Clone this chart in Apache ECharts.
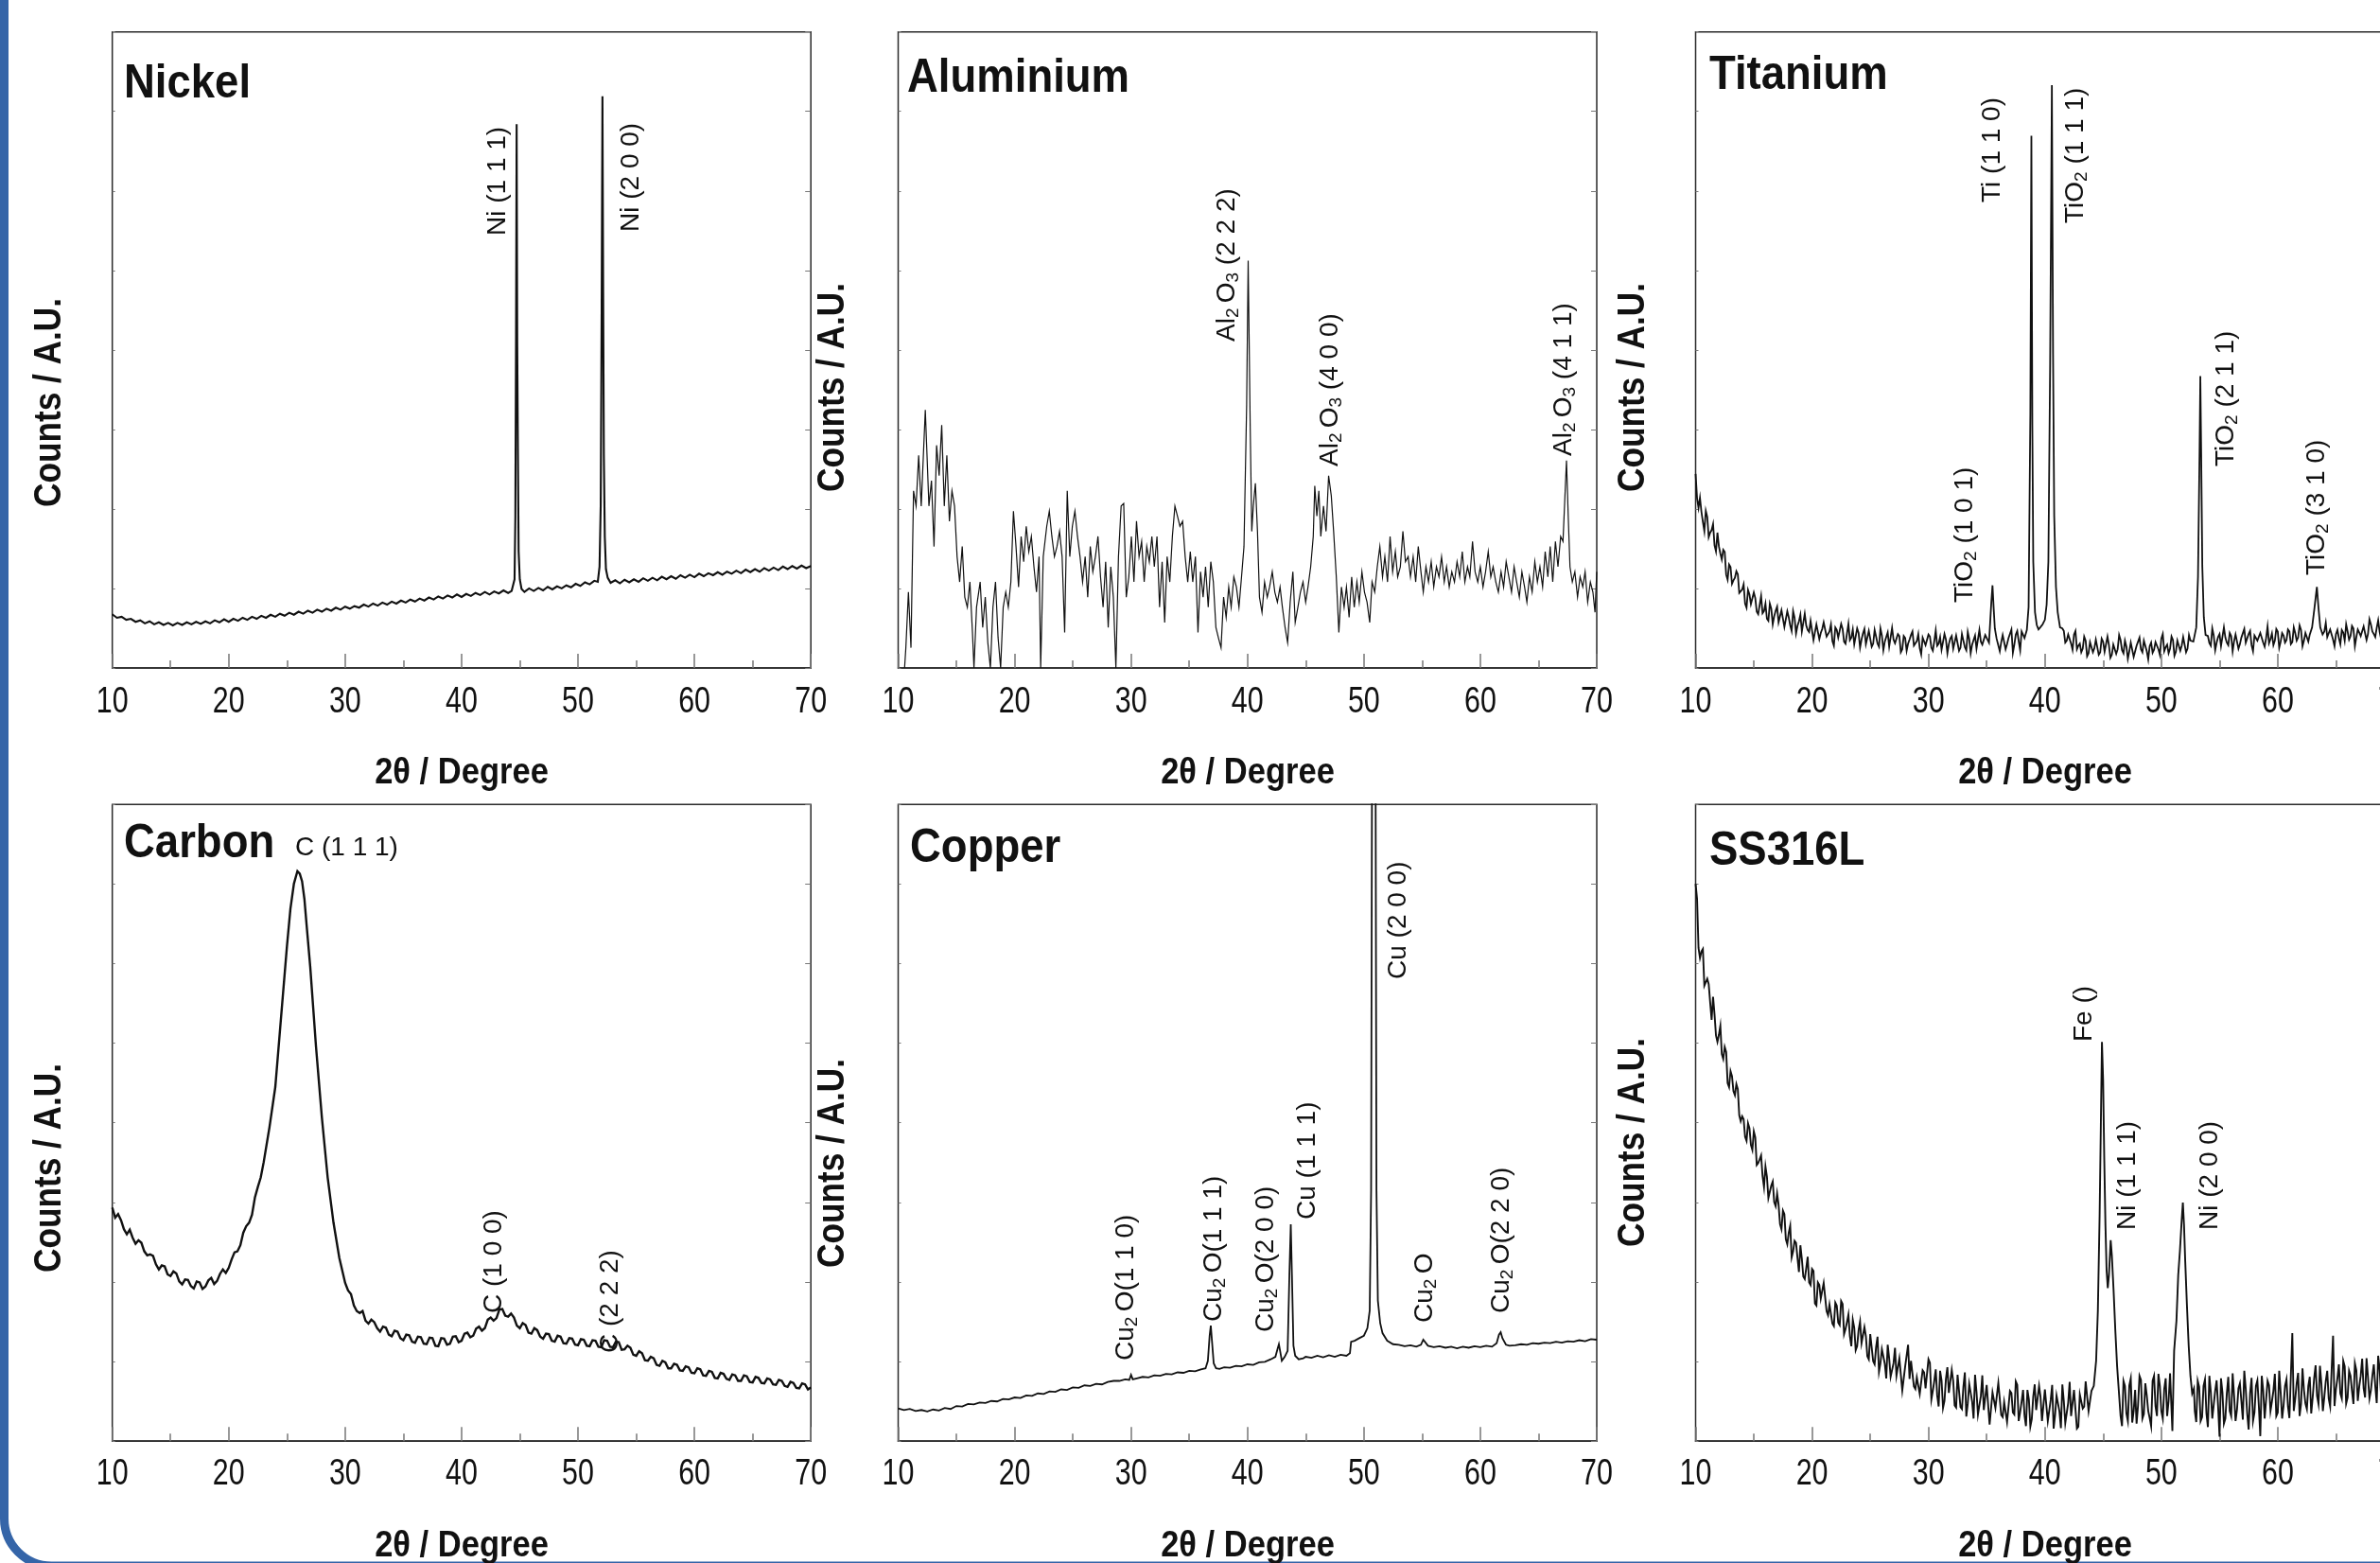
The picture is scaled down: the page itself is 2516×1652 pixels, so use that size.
<!DOCTYPE html>
<html><head><meta charset="utf-8">
<script src="https://cdn.jsdelivr.net/npm/echarts/dist/echarts.min.js"></script>
<style>html,body{margin:0;padding:0;background:#fff;overflow:hidden}#c{width:2516px;height:1652px}</style>
</head><body><div id="c"></div>
<script>
// ---------- tick labels ----------
const xTickValues = [10, 20, 30, 40, 50, 60, 70];
const xTickLabels = ['10','20','30','40','50','60','70'];
// ---------- data: [2θ (deg), counts (A.U.)] ----------
const nickel = [[10,106],[10.4,99],[10.8,101],[11.2,95],[11.6,97],[12,91],[12.4,94],[12.8,88],[13.2,92],[13.6,86],[14,90],[14.4,85],[14.8,89],[15.2,84],[15.6,89],[16,85],[16.4,90],[16.8,86],[17.2,91],[17.6,87],[18,92],[18.4,88],[18.8,94],[19.2,90],[19.6,96],[20,91],[20.4,97],[20.8,93],[21.2,99],[21.6,95],[22,101],[22.4,97],[22.8,103],[23.2,99],[23.6,105],[24,101],[24.4,107],[24.8,103],[25.2,109],[25.6,105],[26,111],[26.4,107],[26.8,113],[27.2,109],[27.6,115],[28,111],[28.4,117],[28.8,113],[29.2,119],[29.6,115],[30,121],[30.4,117],[30.8,122],[31.2,119],[31.6,125],[32,121],[32.4,127],[32.8,123],[33.2,129],[33.6,125],[34,131],[34.4,127],[34.8,133],[35.2,129],[35.6,135],[36,131],[36.4,137],[36.8,133],[37.2,139],[37.6,135],[38,141],[38.4,137],[38.8,143],[39.2,139],[39.6,145],[40,140],[40.4,146],[40.8,142],[41.2,148],[41.6,144],[42,150],[42.4,145],[42.8,151],[43.2,147],[43.6,153],[44,148],[44.3,152],[44.45,150],[44.55,175],[44.62,300],[44.68,660],[44.73,1073],[44.78,640],[44.84,420],[44.9,230],[45,175],[45.15,156],[45.4,150],[45.8,157],[46.2,152],[46.6,158],[47,153],[47.4,160],[47.8,155],[48.2,161],[48.6,157],[49,163],[49.4,159],[49.8,166],[50.2,162],[50.6,169],[51,165],[51.4,172],[51.7,170],[51.85,200],[51.95,320],[52.03,700],[52.1,1128],[52.16,740],[52.22,420],[52.3,260],[52.4,195],[52.55,178],[52.8,168],[53.2,173],[53.6,167],[54,174],[54.4,169],[54.8,175],[55.2,170],[55.6,177],[56,172],[56.4,178],[56.8,173],[57.2,180],[57.6,175],[58,181],[58.4,176],[58.8,183],[59.2,178],[59.6,184],[60,179],[60.4,186],[60.8,181],[61.2,187],[61.6,183],[62,189],[62.4,184],[62.8,190],[63.2,186],[63.6,192],[64,187],[64.4,194],[64.8,189],[65.2,195],[65.6,190],[66,197],[66.4,192],[66.8,198],[67.2,193],[67.6,200],[68,195],[68.4,201],[68.8,196],[69.2,202],[69.6,197],[70,201]];

const aluminium = [[10.55,0],[10.66,40],[10.88,150],[11.1,40],[11.32,350],[11.54,320],[11.76,420],[11.98,320],[12.33,510],[12.64,320],[12.86,370],[13.08,240],[13.3,440],[13.52,380],[13.74,480],[13.96,320],[14.18,420],[14.4,290],[14.62,350],[14.84,320],[15.06,220],[15.28,170],[15.5,240],[15.72,140],[15.94,120],[16.16,170],[16.38,70],[16.51,0],[16.73,120],[17.04,170],[17.26,80],[17.48,140],[17.7,50],[17.92,0],[18.14,120],[18.36,170],[18.58,60],[18.8,0],[19.02,120],[19.24,150],[19.46,120],[19.68,170],[19.9,310],[20.12,240],[20.34,160],[20.56,260],[20.78,210],[21.0,280],[21.22,230],[21.44,260],[21.66,200],[21.88,150],[22.1,220],[22.24,0],[22.46,220],[22.76,280],[22.98,310],[23.2,260],[23.42,220],[23.64,240],[23.86,270],[24.08,220],[24.3,70],[24.52,350],[24.74,220],[24.96,280],[25.18,310],[25.4,260],[25.62,220],[25.84,170],[26.06,220],[26.28,140],[26.5,240],[26.72,190],[26.94,220],[27.16,260],[27.38,180],[27.6,120],[27.82,210],[28.04,80],[28.26,200],[28.48,140],[28.7,0],[28.92,220],[29.15,320],[29.37,325],[29.59,140],[29.81,180],[30.03,260],[30.25,170],[30.47,290],[30.69,220],[30.91,250],[31.13,170],[31.35,240],[31.57,210],[31.79,260],[32.0,200],[32.23,260],[32.45,120],[32.67,210],[32.89,90],[33.1,220],[33.33,170],[33.55,260],[33.77,320],[33.99,300],[34.2,280],[34.43,290],[34.65,220],[34.87,170],[35.09,230],[35.3,170],[35.53,220],[35.75,70],[35.97,190],[36.19,140],[36.4,200],[36.63,120],[36.85,210],[37.07,170],[37.29,80],[37.5,60],[37.73,40],[37.95,140],[38.17,100],[38.39,160],[38.6,120],[38.83,180],[39.05,160],[39.27,120],[39.49,180],[39.7,240],[39.93,520],[40.06,805],[40.24,470],[40.37,270],[40.5,320],[40.68,365],[40.86,270],[41.03,140],[41.25,110],[41.47,170],[41.7,140],[41.9,160],[42.13,190],[42.35,150],[42.57,130],[42.8,160],[43.0,120],[43.23,80],[43.45,50],[43.67,130],[43.9,190],[44.1,90],[44.33,120],[44.55,150],[44.77,170],[45.0,130],[45.2,160],[45.43,200],[45.65,260],[45.78,360],[45.96,300],[46.13,350],[46.3,260],[46.53,320],[46.75,270],[46.97,380],[47.2,340],[47.4,270],[47.63,180],[47.85,70],[48.07,160],[48.3,120],[48.5,160],[48.73,100],[48.95,180],[49.17,120],[49.4,170],[49.6,130],[49.83,190],[50.05,150],[50.27,130],[50.5,90],[50.7,170],[50.93,150],[51.15,200],[51.37,240],[51.6,180],[51.8,220],[52.03,170],[52.25,260],[52.47,190],[52.7,230],[52.9,180],[53.13,200],[53.35,270],[53.57,210],[53.8,220],[54.0,180],[54.23,220],[54.45,170],[54.67,240],[54.9,190],[55.1,150],[55.33,200],[55.55,170],[55.78,210],[56.0,160],[56.23,200],[56.45,180],[56.67,220],[56.9,170],[57.1,200],[57.33,160],[57.55,190],[57.78,170],[58.0,210],[58.23,180],[58.45,230],[58.67,170],[58.9,200],[59.1,180],[59.33,250],[59.55,190],[59.78,170],[60.0,200],[60.23,160],[60.45,190],[60.68,230],[60.9,180],[61.1,200],[61.33,170],[61.55,150],[61.78,190],[62.0,160],[62.22,210],[62.45,180],[62.68,150],[62.9,200],[63.12,170],[63.35,140],[63.57,190],[63.8,160],[64.0,130],[64.22,180],[64.45,150],[64.68,210],[64.9,170],[65.12,200],[65.35,160],[65.57,230],[65.8,180],[66.0,240],[66.22,170],[66.45,250],[66.67,200],[66.9,260],[67.1,250],[67.25,330],[67.4,410],[67.55,300],[67.7,200],[67.9,170],[68.12,190],[68.35,140],[68.57,180],[68.8,160],[69.0,190],[69.22,130],[69.45,170],[69.67,150],[69.85,110],[70.0,190]];

const titanium = [[10,383],[10.25,316],[10.5,308],[10.75,270],[11,298],[11.25,267],[11.5,284],[11.75,230],[12,240],[12.25,214],[12.5,229],[12.75,174],[13,199],[13.25,173],[13.5,191],[13.75,148],[14,155],[14.25,127],[14.5,154],[14.75,126],[15,149],[15.25,111],[15.5,124],[15.75,108],[16,127],[16.25,93],[16.5,117],[16.75,102],[17,121],[17.25,88],[17.5,114],[17.75,83],[18,100],[18.25,73],[18.5,99],[18.75,83],[19,105],[19.25,69],[19.5,84],[19.75,71],[20,91],[20.25,56],[20.5,84],[20.75,69],[21,90],[21.25,62],[21.5,72],[21.75,53],[22,80],[22.25,60],[22.5,87],[22.75,52],[23,68],[23.25,55],[23.5,76],[23.75,44],[24,69],[24.25,56],[24.5,77],[24.75,46],[25,70],[25.25,48],[25.5,62],[25.75,42],[26,64],[26.25,52],[26.5,70],[26.75,43],[27,56],[27.25,47],[27.5,63],[27.75,37],[28,59],[28.25,48],[28.5,65],[28.75,44],[29,53],[29.25,39],[29.5,60],[29.75,45],[30,66],[30.25,40],[30.5,53],[30.75,44],[31,61],[31.25,37],[31.5,56],[31.75,47],[32,63],[32.25,40],[32.5,61],[32.75,40],[33,54],[33.25,35],[33.5,57],[33.75,46],[34,64],[34.25,39],[34.5,52],[34.75,44],[35,62],[35.2,50],[35.3,90],[35.4,130],[35.5,163],[35.6,118],[35.7,78],[35.85,58],[36,61],[36.25,51],[36.5,68],[36.75,47],[37,56],[37.25,30],[37.5,66],[37.75,53],[38,72],[38.25,59],[38.45,75],[38.6,120],[38.75,500],[38.84,1050],[38.92,480],[39,210],[39.15,110],[39.3,85],[39.45,76],[39.6,80],[39.8,86],[40,95],[40.15,125],[40.3,210],[40.45,600],[40.6,1150],[40.7,620],[40.8,300],[40.95,160],[41.1,110],[41.3,80],[41.5,78],[41.75,50],[42,66],[42.25,48],[42.5,66],[42.75,37],[43,48],[43.25,38],[43.5,54],[43.75,29],[44,49],[44.25,39],[44.5,55],[44.75,31],[45,52],[45.25,31],[45.5,45],[45.75,26],[46,48],[46.25,37],[46.5,55],[46.75,29],[47,42],[47.25,33],[47.5,50],[47.75,24],[48,46],[48.25,37],[48.5,54],[48.75,33],[49,43],[49.25,30],[49.5,51],[49.75,37],[50,58],[50.25,33],[50.5,46],[50.75,38],[51,55],[51.25,32],[51.5,52],[51.75,44],[52,60],[52.25,38],[52.5,54],[52.75,52],[53,80],[53.15,180],[53.28,420],[53.35,576],[53.42,430],[53.52,200],[53.65,100],[53.8,65],[54,63],[54.25,44],[54.5,64],[54.75,50],[55,67],[55.25,46],[55.5,60],[55.75,45],[56,63],[56.25,53],[56.5,68],[56.75,47],[57,59],[57.25,50],[57.5,67],[57.75,45],[58,64],[58.25,54],[58.5,69],[58.75,50],[59,59],[59.25,49],[59.5,68],[59.75,54],[60,72],[60.25,52],[60.5,64],[60.75,55],[61,72],[61.25,51],[61.5,69],[61.75,60],[62,75],[62.25,54],[62.5,69],[62.75,66],[62.95,80],[63.15,118],[63.36,160],[63.5,118],[63.65,80],[63.85,66],[64,72],[64.25,61],[64.5,76],[64.75,56],[65,67],[65.25,59],[65.5,75],[65.75,54],[66,72],[66.25,63],[66.5,78],[66.75,61],[67,70],[67.25,60],[67.5,79],[67.75,67],[68,86],[68.25,67],[68.5,79],[68.75,71],[69,89],[69.25,69],[69.5,89],[69.75,81],[70,95]];
// extra noise readings between the points above
const titaniumMid = [[10.125,335],[10.375,336],[10.625,288],[10.875,310],[11.125,258],[11.375,272],[11.625,242],[11.875,267],[12.125,226],[12.375,233],[12.625,184],[12.875,204],[13.125,166],[13.375,178],[13.625,185],[13.875,147],[14.125,165],[14.375,119],[14.625,145],[14.875,125],[15.125,138],[15.375,106],[15.625,142],[15.875,112],[16.125,97],[16.375,127],[16.625,86],[16.875,113],[17.125,90],[17.375,114],[17.625,81],[17.875,112],[18.125,84],[18.375,112],[18.625,68],[18.875,92],[19.125,72],[19.375,107],[19.625,75],[19.875,93],[20.125,55],[20.375,86],[20.625,57],[20.875,77],[21.125,92],[21.375,61],[21.625,86],[21.875,44],[22.125,75],[22.375,60],[22.625,77],[22.875,48],[23.125,87],[23.375,60],[23.625,47],[23.875,78],[24.125,40],[24.375,68],[24.625,47],[24.875,73],[25.125,42],[25.375,75],[25.625,48],[25.875,78],[26.125,35],[26.375,61],[26.625,42],[26.875,79],[27.125,49],[27.375,67],[27.625,31],[27.875,63],[28.125,34],[28.375,56],[28.625,72],[28.875,42],[29.125,67],[29.375,27],[29.625,58],[29.875,44],[30.125,62],[30.375,34],[30.625,74],[30.875,48],[31.125,36],[31.375,67],[31.625,29],[31.875,58],[32.125,38],[32.375,64],[32.625,34],[32.875,67],[33.125,41],[33.375,71],[33.625,29],[33.875,55],[34.125,38],[34.375,75],[34.625,46],[34.875,65],[36.125,33],[36.375,65],[36.625,37],[36.875,59],[37.125,76],[37.375,46],[37.625,73],[37.875,35],[41.625,73],[41.875,54],[42.125,67],[42.375,36],[42.625,73],[42.875,44],[43.125,31],[43.375,62],[43.625,23],[43.875,51],[44.125,31],[44.375,56],[44.625,26],[44.875,58],[45.125,32],[45.375,62],[45.625,20],[45.875,46],[46.125,28],[46.375,65],[46.625,35],[46.875,54],[47.125,18],[47.375,50],[47.625,22],[47.875,44],[48.125,60],[48.375,31],[48.625,57],[48.875,17],[49.125,50],[49.375,36],[49.625,54],[49.875,26],[50.125,67],[50.375,41],[50.625,29],[50.875,62],[51.125,24],[51.375,54],[51.625,34],[51.875,61],[52.125,31],[52.375,65],[54.125,49],[54.375,78],[54.625,35],[54.875,61],[55.125,43],[55.375,80],[55.625,50],[55.875,69],[56.125,33],[56.375,66],[56.625,38],[56.875,60],[57.125,77],[57.375,47],[57.625,73],[57.875,33],[58.125,66],[58.375,52],[58.625,70],[58.875,42],[59.125,82],[59.375,57],[59.625,45],[59.875,77],[60.125,40],[60.375,69],[60.625,50],[60.875,76],[61.125,47],[61.375,80],[61.625,54],[61.875,84],[62.125,43],[62.375,69],[62.625,52],[64.125,89],[64.375,59],[64.625,78],[64.875,43],[65.125,75],[65.375,47],[65.625,70],[65.875,86],[66.125,56],[66.375,83],[66.625,43],[66.875,76],[67.125,63],[67.375,82],[67.625,55],[67.875,96],[68.125,72],[68.375,61],[68.625,94],[68.875,57],[69.125,88],[69.375,69],[69.625,97],[69.875,68]];

const carbon = [[10,465],[10.5,452],[11,422],[11.5,421],[12,393],[12.5,395],[13,370],[13.5,369],[14,342],[14.5,348],[15,329],[15.5,334],[16,312],[16.5,321],[17,304],[17.5,316],[18,308],[18.5,325],[19,319],[19.5,342],[20,345],[20.5,376],[21,390],[21.5,428],[22,451],[22.5,506],[23,555],[23.5,625],[24,705],[24.5,845],[25,985],[25.3,1060],[25.6,1110],[25.9,1135],[26.1,1130],[26.3,1115],[26.5,1080],[26.7,1025],[27,945],[27.5,785],[28,645],[28.5,525],[29,435],[29.5,365],[30,315],[30.5,293],[31,259],[31.5,259],[32,234],[32.5,237],[33,218],[33.5,226],[34,209],[34.5,218],[35,201],[35.5,211],[36,196],[36.5,207],[37,193],[37.5,205],[38,189],[38.5,204],[39,194],[39.5,209],[40,200],[40.5,216],[41,210],[41.5,228],[42,225],[42.5,246],[43,245],[43.5,263],[44,248],[44.5,246],[45,225],[45.5,231],[46,214],[46.5,221],[47,204],[47.5,213],[48,198],[48.5,208],[49,194],[49.5,204],[50,191],[50.5,202],[51,189],[51.5,200],[52,187],[52.5,200],[53,187],[53.5,197],[54,183],[54.5,186],[55,170],[55.5,175],[56,160],[56.5,165],[57,150],[57.5,157],[58,145],[58.5,152],[59,140],[59.5,147],[60,135],[60.5,143],[61,130],[61.5,138],[62,125],[62.5,134],[63,122],[63.5,131],[64,120],[64.5,129],[65,117],[65.5,126],[66,115],[66.5,123],[67,112],[67.5,120],[68,108],[68.5,116],[69,105],[69.5,113],[70,107]];
const carbonMid = [[10.25,445],[10.75,440],[11.25,412],[11.75,405],[12.25,400],[12.75,378],[13.25,372],[13.75,352],[14.25,350],[14.75,332],[15.25,338],[15.75,318],[16.25,322],[16.75,309],[17.25,318],[17.75,303],[18.25,320],[18.75,313],[19.25,333],[19.75,335],[20.25,362],[20.75,378],[21.25,415],[21.75,435],[22.25,485],[22.75,525],[30.25,300],[30.75,270],[31.25,255],[31.75,240],[32.25,242],[32.75,225],[33.25,228],[33.75,212],[34.25,220],[34.75,205],[35.25,212],[35.75,198],[36.25,208],[36.75,194],[37.25,206],[37.75,190],[38.25,205],[38.75,192],[39.25,208],[39.75,197],[40.25,214],[40.75,207],[41.25,224],[41.75,220],[42.25,242],[42.75,240],[43.25,262],[43.75,250],[44.25,254],[44.75,230],[45.25,235],[45.75,216],[46.25,225],[46.75,208],[47.25,214],[47.75,200],[48.25,210],[48.75,195],[49.25,205],[49.75,192],[50.25,203],[50.75,190],[51.25,201],[51.75,188],[52.25,201],[52.75,188],[53.25,198],[53.75,182],[54.25,190],[54.75,172],[55.25,179],[55.75,161],[56.25,168],[56.75,152],[57.25,160],[57.75,145],[58.25,154],[58.75,141],[59.25,149],[59.75,136],[60.25,145],[60.75,131],[61.25,140],[61.75,126],[62.25,136],[62.75,124],[63.25,133],[63.75,120],[64.25,131],[64.75,118],[65.25,128],[65.75,116],[66.25,125],[66.75,113],[67.25,122],[67.75,110],[68.25,118],[68.75,106],[69.25,115],[69.75,103]];

const copper = [[10,65],[10.5,62],[11,64],[11.5,60],[12,62],[12.5,59],[13,63],[13.5,61],[14,66],[14.5,64],[15,70],[15.5,69],[16,74],[16.5,73],[17,77],[17.5,76],[18,80],[18.5,79],[19,84],[19.5,83],[20,87],[20.5,86],[21,91],[21.5,90],[22,95],[22.5,94],[23,99],[23.5,98],[24,103],[24.5,102],[25,107],[25.5,106],[26,111],[26.5,110],[27,114],[27.5,113],[28,118],[28.5,120],[29,120],[29.5,123],[29.85,122],[30,132],[30.15,123],[30.5,125],[31,128],[31.5,127],[32,131],[32.5,130],[33,134],[33.5,133],[34,137],[34.5,136],[35,140],[35.5,139],[36,143],[36.4,145],[36.6,160],[36.75,210],[36.85,230],[36.95,200],[37.1,155],[37.3,145],[37.6,144],[38,147],[38.5,146],[39,150],[39.5,149],[40,153],[40.5,152],[41,157],[41.5,158],[42,163],[42.4,168],[42.6,185],[42.7,193],[42.8,180],[42.95,160],[43.2,168],[43.45,180],[43.6,330],[43.72,432],[43.82,330],[43.95,190],[44.1,170],[44.4,163],[44.8,165],[45,168],[45.5,166],[46,170],[46.5,167],[47,171],[47.5,168],[48,172],[48.5,170],[48.8,175],[48.9,198],[49.2,200],[49.6,205],[50,210],[50.3,225],[50.5,260],[50.62,500],[50.72,1600],[50.85,2500],[50.98,1600],[51.08,500],[51.2,280],[51.4,235],[51.6,215],[52,200],[52.5,193],[53,192],[53.5,189],[54,191],[54.5,188],[54.9,192],[55.1,202],[55.25,200],[55.5,190],[56,187],[56.5,189],[57,186],[57.5,188],[58,185],[58.5,188],[59,186],[59.5,189],[60,187],[60.5,190],[61,188],[61.4,195],[61.6,212],[61.75,217],[61.9,205],[62.2,192],[62.5,190],[63,191],[63.5,193],[64,192],[64.5,195],[65,194],[65.5,196],[66,195],[66.5,198],[67,196],[67.5,199],[68,198],[68.5,201],[69,199],[69.5,203],[70,202]];

const ss316l = [[10,1110],[10.25,982],[10.5,975],[10.75,907],[11,921],[11.25,874],[11.5,885],[11.75,808],[12,809],[12.25,771],[12.5,785],[12.75,713],[13,737],[13.25,697],[13.5,711],[13.75,649],[14,647],[14.25,606],[14.5,633],[14.75,590],[15,617],[15.25,550],[15.5,561],[15.75,528],[16,547],[16.25,484],[16.5,509],[16.75,476],[17,493],[17.25,432],[17.5,459],[17.75,402],[18,415],[18.25,366],[18.5,399],[18.75,365],[19,390],[19.25,328],[19.5,344],[19.75,316],[20,343],[20.25,274],[20.5,316],[20.75,284],[21,315],[21.25,259],[21.5,272],[21.75,234],[22,276],[22.25,236],[22.5,279],[22.75,213],[23,237],[23.25,209],[23.5,242],[23.75,181],[24,221],[24.25,195],[24.5,227],[24.75,169],[25,213],[25.25,159],[25.5,187],[25.75,138],[26,183],[26.25,154],[26.5,192],[26.75,128],[27,155],[27.25,130],[27.5,165],[27.75,101],[28,149],[28.25,192],[28.5,160],[28.75,109],[29,127],[29.25,94],[29.5,141],[29.75,105],[30,163],[30.25,83],[30.5,120],[30.75,91],[31,140],[31.25,66],[31.5,124],[31.75,96],[32,142],[32.25,71],[32.5,132],[32.75,68],[33,108],[33.25,49],[33.5,114],[33.75,79],[34,132],[34.25,53],[34.5,90],[34.75,62],[35,112],[35.25,33],[35.5,97],[35.75,66],[36,116],[36.25,52],[36.5,78],[36.75,38],[37,100],[37.25,57],[37.5,119],[37.75,40],[38,79],[38.25,51],[38.5,102],[38.75,29],[39,89],[39.25,62],[39.5,110],[39.75,40],[40,103],[40.25,40],[40.5,82],[40.75,25],[41,91],[41.25,59],[41.5,113],[41.75,36],[42,76],[42.25,50],[42.5,102],[42.75,25],[43,93],[43.25,65],[43.5,119],[43.75,60],[44,100],[44.2,110],[44.4,160],[44.55,260],[44.7,450],[44.8,620],[44.9,795],[45,720],[45.1,560],[45.2,430],[45.3,340],[45.4,305],[45.5,330],[45.65,400],[45.75,370],[45.9,300],[46.05,220],[46.2,150],[46.35,100],[46.5,50],[46.75,120],[47,55],[47.25,111],[47.5,37],[47.75,102],[48,71],[48.25,122],[48.5,54],[48.75,91],[49,46],[49.25,120],[49.5,70],[49.75,134],[50,60],[50.25,104],[50.5,50],[50.75,135],[50.95,20],[51.1,180],[51.3,240],[51.45,330],[51.6,380],[51.75,440],[51.85,475],[51.95,430],[52.05,360],[52.2,270],[52.35,190],[52.5,130],[52.65,95],[52.8,105],[53,38],[53.25,108],[53.5,48],[53.75,123],[54,28],[54.25,98],[54.5,48],[54.75,121],[55,9],[55.25,97],[55.5,45],[55.75,128],[56,50],[56.25,90],[56.5,63],[56.75,115],[57,43],[57.25,104],[57.5,23],[57.75,126],[58,57],[58.25,121],[58.5,10],[58.75,101],[59,44],[59.25,111],[59.5,79],[59.75,134],[60,57],[60.25,97],[60.5,71],[60.75,123],[61,46],[61.25,215],[61.5,84],[61.75,136],[62,74],[62.25,102],[62.5,64],[62.75,128],[63,87],[63.25,151],[63.5,74],[63.75,114],[64,88],[64.25,140],[64.5,69],[64.75,210],[65,104],[65.25,153],[65.5,85],[65.75,149],[66,87],[66.25,130],[66.5,74],[66.75,141],[67,109],[67.25,164],[67.5,87],[67.75,127],[68,101],[68.25,153],[68.5,76],[68.75,143],[69,114],[69.25,166],[69.5,104],[69.75,139],[70,110]];
const ss316lMid = [[10.125,1080],[10.375,962],[10.625,980],[10.875,910],[11.125,910],[11.375,839],[11.625,850],[11.875,795],[12.125,827],[12.375,761],[12.625,775],[12.875,705],[13.125,727],[13.375,689],[13.625,701],[13.875,637],[14.125,641],[14.375,598],[14.625,623],[14.875,580],[15.125,605],[15.375,554],[15.625,569],[15.875,506],[16.125,527],[16.375,486],[16.625,517],[16.875,468],[17.125,471],[17.375,422],[17.625,452],[17.875,392],[18.125,429],[18.375,378],[18.625,395],[18.875,337],[19.125,363],[19.375,323],[19.625,367],[19.875,311],[20.125,339],[20.375,270],[20.625,311],[20.875,282],[21.125,312],[21.375,251],[21.625,271],[21.875,229],[22.125,270],[22.375,231],[22.625,273],[22.875,223],[23.125,252],[23.375,189],[23.625,226],[23.875,189],[24.125,238],[24.375,192],[24.625,209],[24.875,163],[25.125,212],[25.375,153],[25.625,208],[25.875,155],[26.125,185],[26.375,125],[26.625,165],[26.875,125],[27.125,186],[27.375,127],[27.625,164],[27.875,100],[28.125,147],[28.375,124],[28.625,159],[28.875,104],[29.125,128],[29.375,92],[29.625,137],[29.875,102],[30.125,156],[30.375,100],[30.625,143],[30.875,69],[31.125,121],[31.375,80],[31.625,147],[31.875,95],[32.125,120],[32.375,67],[32.625,133],[32.875,64],[33.125,137],[33.375,75],[33.625,116],[33.875,45],[34.125,98],[34.375,52],[34.625,131],[34.875,61],[35.125,111],[35.375,35],[35.625,96],[35.875,68],[36.125,115],[36.375,48],[36.625,80],[36.875,37],[37.125,96],[37.375,53],[37.625,112],[37.875,58],[38.125,102],[38.375,30],[38.625,83],[38.875,44],[39.125,113],[39.375,62],[39.625,88],[39.875,37],[40.125,105],[40.375,37],[40.625,112],[40.875,52],[41.125,94],[41.375,26],[41.625,80],[41.875,36],[42.125,118],[42.375,50],[42.625,102],[42.875,29],[43.125,94],[43.375,69],[43.625,121],[43.875,60],[46.625,30],[46.875,110],[47.125,40],[47.375,125],[47.625,60],[47.875,35],[48.125,130],[48.375,45],[48.625,115],[48.875,60],[49.125,30],[49.375,130],[49.625,50],[49.875,110],[50.125,45],[50.375,125],[50.625,80],[52.875,60],[53.125,120],[53.375,40],[53.625,110],[53.875,55],[54.125,130],[54.375,45],[54.625,100],[54.875,70],[55.125,125],[55.375,35],[55.625,95],[55.875,60],[56.125,135],[56.375,40],[56.625,105],[56.875,80],[57.125,140],[57.375,55],[57.625,95],[57.875,40],[58.125,110],[58.375,70],[58.625,130],[58.875,45],[59.125,120],[59.375,60],[59.625,100],[59.875,50],[60.125,140],[60.375,45],[60.625,110],[60.875,70],[61.125,130],[61.375,60],[61.625,115],[61.875,50],[62.125,145],[62.375,75],[62.625,110],[62.875,55],[63.125,125],[63.375,90],[63.625,150],[63.875,60],[64.125,120],[64.375,85],[64.625,140],[64.875,70],[65.125,125],[65.375,95],[65.625,160],[65.875,75],[66.125,140],[66.375,100],[66.625,155],[66.875,80],[67.125,130],[67.375,105],[67.625,165],[67.875,85],[68.125,130],[68.375,110],[68.625,170],[68.875,90],[69.125,140],[69.375,115],[69.625,175],[69.875,95]];

// ---------- panel meta ----------
const panelNames = ['Nickel','Aluminium','Titanium','Carbon','Copper','SS316L'];
const byX = (a, b) => a[0] - b[0];
const panelSeries = [nickel, aluminium, titanium.concat(titaniumMid).sort(byX), carbon.concat(carbonMid).sort(byX), copper, ss316l.concat(ss316lMid).sort(byX)];
const panelMax = [1255, 1257, 1255, 1268, 1268, 1268];

// ---------- layout / styles ----------
const SANS = "'Liberation Sans',Arial,'DejaVu Sans',sans-serif";
const colLeft = [118.7, 949.5, 1792.5];
const rowTop = [33.7, 850.2];
const rowH = [672.3, 673];
const plotW = 738.5;
const tickLabelY = [742, 1558];
const lineWidths = [2.1, 1.2, 1.8, 2.4, 1.8, 1.9];

const grids = [], xAxes = [], yAxes = [], series = [];
for (let i = 0; i < 6; i++) {
  const c = i % 3, r = Math.floor(i / 3);
  grids.push({left: colLeft[c], top: rowTop[r], width: plotW, height: rowH[r], show: true,
    borderColor: '#2a2a2a', borderWidth: 1.5, backgroundColor: 'transparent', containLabel: false, outerBoundsMode: 'none'});
  xAxes.push({gridIndex: i, type: 'value', min: 10, max: 70, interval: 10,
    axisLine: {show: true, onZero: false, lineStyle: {color: '#2a2a2a', width: 1.5}},
    axisTick: {show: true, inside: true, length: 15, lineStyle: {color: '#777', width: 1.5}},
    minorTick: {show: true, splitNumber: 2, length: 8, lineStyle: {color: '#777', width: 1.5}},
    splitLine: {show: false}, minorSplitLine: {show: false},
    axisLabel: {show: false}
  });
  const mx = panelMax[i];
  yAxes.push({gridIndex: i, type: 'value', min: 0, max: mx, interval: mx / 8, position: 'left',
    axisLine: {show: false}, axisTick: {show: true, inside: true, length: 3, lineStyle: {color: '#777'}},
    axisLabel: {show: false}, splitLine: {show: false}});
  yAxes.push({gridIndex: i, type: 'value', min: 0, max: mx, interval: mx / 8, position: 'right',
    axisLine: {show: false}, axisTick: {show: true, inside: true, length: 6, lineStyle: {color: '#777'}},
    axisLabel: {show: false}, splitLine: {show: false}});
  series.push({type: 'line', name: panelNames[i], xAxisIndex: i, yAxisIndex: i * 2, data: panelSeries[i],
    showSymbol: false, symbol: 'none', clip: true, animation: false,
    lineStyle: {color: '#111', width: lineWidths[i], join: 'miter'}});
}

// ---------- texts ----------
const graphics = [];
graphics.push({type: 'rect', z: 0, silent: true,
  shape: {x: 4.5, y: -120, width: 3000, height: 1775, r: 50},
  style: {fill: 'none', stroke: '#3565a8', lineWidth: 9}});

function txt(x, y, text, size, opts) {
  opts = opts || {};
  return {type: 'text', x: x, y: y, z: 10, rotation: opts.rot ? Math.PI / 2 : 0, scaleX: opts.sx || 1, silent: true,
    style: {text: text, rich: opts.rich, fontSize: size, fontWeight: opts.bold ? 'bold' : 'normal', fontFamily: SANS, fill: '#111',
      textAlign: opts.align || 'left', textVerticalAlign: 'middle', align: opts.align || 'left', verticalAlign: 'middle'}};
}

const titlePos = [[131, 89], [959, 83], [1807, 80], [131, 892], [962, 897], [1807, 900]];
panelNames.forEach((n, i) => graphics.push(txt(titlePos[i][0], titlePos[i][1], n, 50, {bold: true, sx: 0.91})));

const yTitlePos = [[53, 536], [881, 520], [1727, 520], [53, 1345], [881, 1340], [1727, 1318]];
yTitlePos.forEach(p => graphics.push(txt(p[0], p[1], 'Counts / A.U.', 40, {bold: true, sx: 0.88, rot: true})));

const xTitlePos = [[488, 817], [1319, 817], [2162, 817], [488, 1634], [1319, 1634], [2162, 1634]];
xTitlePos.forEach(p => graphics.push(txt(p[0], p[1], '2θ / Degree', 39, {bold: true, sx: 0.885, align: 'center'})));

const rich = {
  n: {fontSize: 28, fontFamily: SANS, fill: '#111', lineHeight: 33, verticalAlign: 'middle'},
  s: {fontSize: 19, fontFamily: SANS, fill: '#111', lineHeight: 19, verticalAlign: 'bottom'}
};
// peak labels: [x centre, y start (bottom), rich text]
const peakLabels = [
  [526, 249, '{n|Ni (1 1 1)}'], [667, 245, '{n|Ni (2 0 0)}'],
  [1297, 361, '{n|Al}{s|2 }{n|O}{s|3}{n| (2 2 2)}'], [1406, 493, '{n|Al}{s|2 }{n|O}{s|3}{n| (4 0 0)}'], [1653, 482, '{n|Al}{s|2 }{n|O}{s|3}{n| (4 1 1)}'],
  [2077, 637, '{n|TiO}{s|2}{n| (1 0 1)}'], [2106, 214, '{n|Ti (1 1 0)}'], [2194, 236, '{n|TiO}{s|2}{n| (1 1 1)}'],
  [2353, 493, '{n|TiO}{s|2}{n| (2 1 1)}'], [2449, 608, '{n|TiO}{s|2}{n| (3 1 0)}'],
  [522, 1388, '{n|C (1 0 0)}'], [645, 1430, '{n|C (2 2 2)}'],
  [1190, 1438, '{n|Cu}{s|2 }{n|O(1 1 0)}'], [1283, 1397, '{n|Cu}{s|2 }{n|O(1 1 1)}'], [1338, 1408, '{n|Cu}{s|2 }{n|O(2 0 0)}'],
  [1382, 1289, '{n|Cu (1 1 1)}'], [1478, 1035, '{n|Cu (2 0 0)}'], [1506, 1398, '{n|Cu}{s|2 }{n|O}'], [1587, 1388, '{n|Cu}{s|2 }{n|O(2 2 0)}'],
  [2203, 1101, '{n|Fe ()}'], [2249, 1300, '{n|Ni (1 1 1)}'], [2336, 1300, '{n|Ni (2 0 0)}']
];
peakLabels.forEach(p => graphics.push(txt(p[0], p[1], p[2], 28, {rot: true, rich: rich})));
graphics.push(txt(312, 896, 'C (1 1 1)', 28));

const chart = echarts.init(document.getElementById('c'), null, {renderer: 'canvas', width: 2516, height: 1652});
chart.setOption({
  backgroundColor: '#fff', animation: false,
  grid: grids, xAxis: xAxes, yAxis: yAxes, series: series, graphic: graphics
});
// tick labels positioned by the x scales
for (let i = 0; i < 6; i++) {
  const r = Math.floor(i / 3);
  xTickValues.forEach((v, k) => {
    const px = chart.convertToPixel({xAxisIndex: i}, v);
    graphics.push(txt(px, tickLabelY[r], xTickLabels[k], 39, {sx: 0.78, align: 'center'}));
  });
}
chart.setOption({graphic: graphics});
</script></body></html>
